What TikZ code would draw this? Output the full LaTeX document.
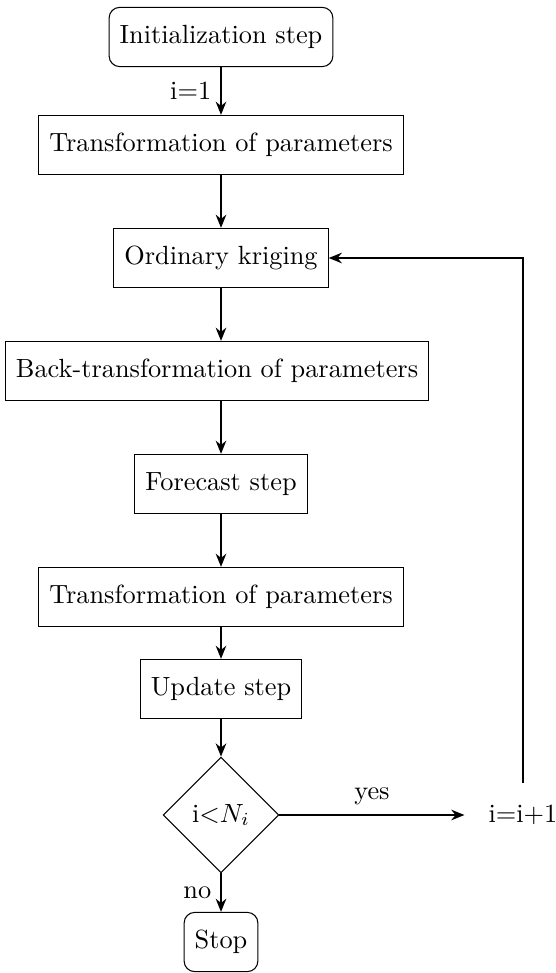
\documentclass[tikz,border=0pt]{standalone}
\usetikzlibrary{shapes.geometric,arrows.meta}
\begin{document}
\begin{tikzpicture}[x=0.38pt,y=-0.38pt,
  box/.style={draw,line width=0.4pt,minimum height=22.5pt,inner xsep=4pt,font=\normalsize},
  rbox/.style={box,rounded corners=4pt},
  dec/.style={draw,diamond,aspect=1,line width=0.4pt,minimum width=44pt,minimum height=44pt,inner sep=1pt},
  arr/.style={-{Stealth[length=5pt,width=4pt]},line width=0.8pt}]
\useasboundingbox (0,0) rectangle (556,973);
\node[rbox] (init) at (221,37) {Initialization step};
\node[box] (tp1) at (221,145) {Transformation of parameters};
\node[box] (ok) at (221,258) {Ordinary kriging};
\node[box] (bt) at (217,371) {Back-transformation of parameters};
\node[box] (fc) at (221,484) {Forecast step};
\node[box] (tp2) at (221,597) {Transformation of parameters};
\node[box] (up) at (221,689) {Update step};
\node[dec] (d) at (221,815) {i$<$$N_i$};
\node[inner xsep=9pt] (inc) at (523,815) {i=i+1};
\node[rbox] (stop) at (221,942) {Stop};
\coordinate (s) at (523,783);
\coordinate (c) at (523,258);
\draw[arr] (init) -- node[left] {i=1} (tp1);
\draw[arr] (tp1) -- (ok);
\draw[arr] (ok) -- (ok|-bt.north);
\draw[arr] (ok|-bt.south) -- (fc);
\draw[arr] (fc) -- (tp2);
\draw[arr] (tp2) -- (up);
\draw[arr] (up) -- (d);
\draw[arr] (d) -- node[above] {yes} (inc);
\draw[arr] (d) -- node[left] {no} (stop);
\draw[arr] (s) -- (c) -- (ok);
\end{tikzpicture}
\end{document}
